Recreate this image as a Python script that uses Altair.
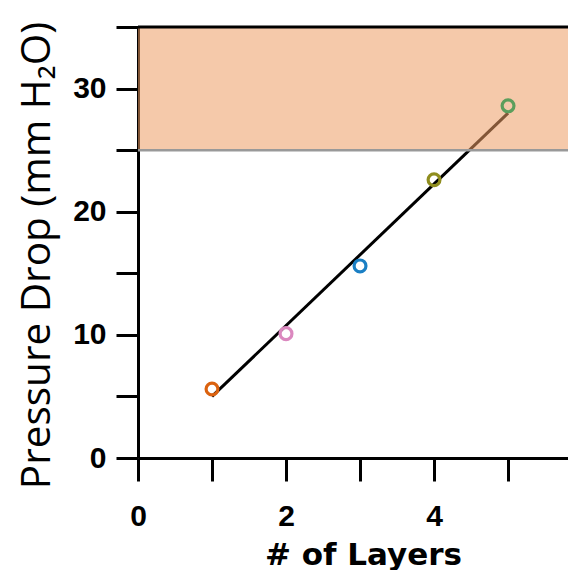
import altair as alt
import pandas as pd

# ---- data ----
layers = [1, 2, 3, 4, 5]
pressure = [5.6, 10.1, 15.6, 22.6, 28.6]
point_colors = ["#db620f", "#db88bf", "#1a7fc4", "#8f8d1e", "#5c9e5c"]
fit_x = [1, 5]
fit_y = [5.0, 28.0]
limit_low = [25]
limit_high = [35]
x_ticks = [0, 1, 2, 3, 4, 5]
y_ticks = [0, 5, 10, 15, 20, 25, 30, 35]
x_max = 5.81
y_max = 35

pts = pd.DataFrame({"layers": layers, "pressure": pressure, "color": point_colors})
fit = pd.DataFrame({"layers": fit_x, "pressure": fit_y})
band = pd.DataFrame({"layers": [0], "layers2": [x_max],
                     "pressure": limit_low, "pressure2": limit_high})
low_rule = pd.DataFrame({"pressure": limit_low})
top_rule = pd.DataFrame({"pressure": limit_high})

xscale = alt.Scale(domain=[0, x_max], nice=False, zero=False)
yscale = alt.Scale(domain=[0, y_max], nice=False, zero=False)

x_axis = alt.Axis(
    values=x_ticks,
    labelExpr="datum.value % 2 == 0 ? datum.label : ''",
    title="# of Layers",
    titleFont="DejaVu Sans", titleFontSize=31, titleFontWeight="bold",
    titleColor="black", titleX=225, titleY=106, titleBaseline="alphabetic",
    titleAlign="center",
    labelFont="Liberation Sans", labelFontSize=30, labelFontWeight="bold",
    labelColor="black", labelPadding=20, labelFlush=False, labelOverlap=False,
    tickSize=23, tickWidth=3, tickColor="black",
    domainColor="black", domainWidth=3, grid=False,
)
y_axis = alt.Axis(
    values=y_ticks,
    labelExpr="datum.value % 10 == 0 ? datum.label : ''",
    title="Pressure Drop (mm H₂O)",
    titleFont="Open Sans", titleFontSize=40.5, titleFontWeight="normal",
    titleColor="black", titleAngle=270, titleX=-89, titleY=228,
    titleBaseline="alphabetic", titleAlign="center",
    labelFont="Liberation Sans", labelFontSize=30, labelFontWeight="bold",
    labelColor="black", labelPadding=10, labelFlush=False, labelOverlap=False,
    tickSize=22, tickWidth=3, tickColor="black",
    domainColor="black", domainWidth=3, grid=False,
)

X = alt.X("layers:Q", scale=xscale, axis=x_axis)
Y = alt.Y("pressure:Q", scale=yscale, axis=y_axis)

line = alt.Chart(fit).mark_line(color="black", strokeWidth=3).encode(x=X, y=Y)

shade = alt.Chart(band).mark_rect(color="#ec9c64", opacity=0.55).encode(
    x=X, x2="layers2:Q", y=Y, y2="pressure2:Q"
)

low = alt.Chart(low_rule).mark_rule(color="#999999", strokeWidth=2.5).encode(y=Y)
top = alt.Chart(top_rule).mark_rule(color="black", strokeWidth=3).encode(y=Y)

points = alt.Chart(pts).mark_point(
    shape="circle", filled=False, size=140, strokeWidth=3.2, opacity=1
).encode(
    x=X, y=Y,
    stroke=alt.Color("color:N", scale=None),
)

chart = alt.layer(line, shade, low, top, points).properties(
    width=430,
    height=431,
    padding={"left": 130, "top": 19, "right": 0, "bottom": 112},
    autosize=alt.AutoSizeParams(type="none"),
    background="white",
).configure_view(stroke=None)

chart.save("out.html", embed_options={"renderer": "svg", "actions": False})
